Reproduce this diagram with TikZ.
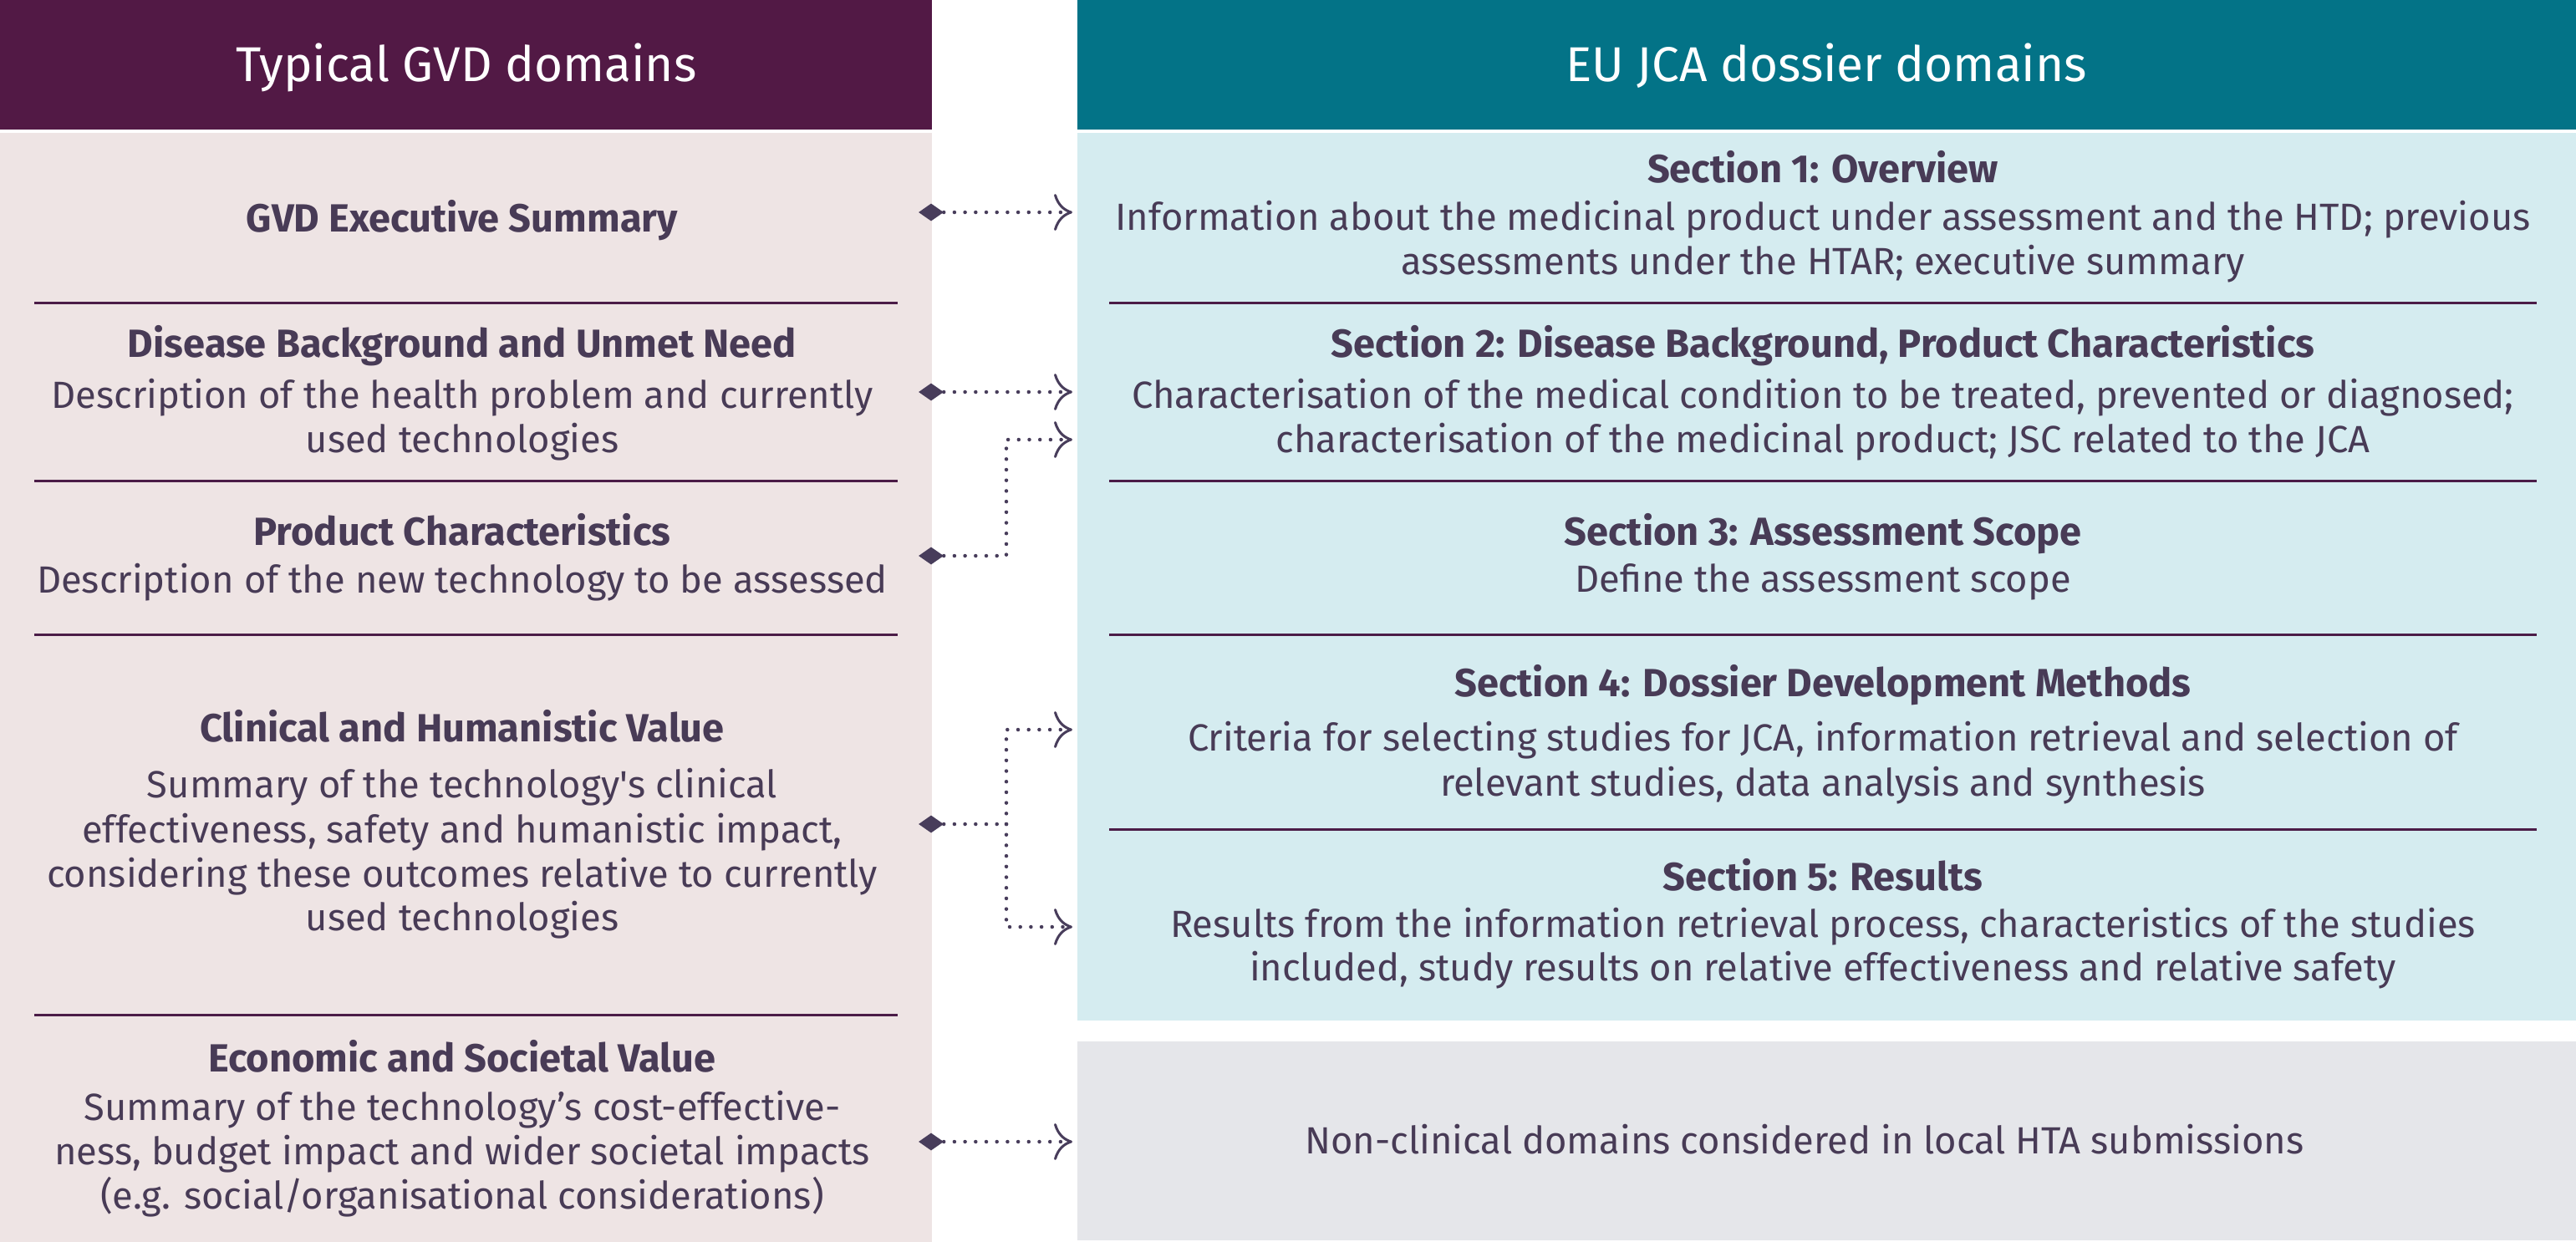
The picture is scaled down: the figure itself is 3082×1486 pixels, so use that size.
\documentclass[tikz,border=0pt]{standalone}
\usepackage{fontspec}
\setmainfont{Fira Sans}
\usetikzlibrary{arrows.meta,shapes.geometric}
\definecolor{plum}{HTML}{521945}
\definecolor{teal}{HTML}{037387}
\definecolor{pinkbg}{HTML}{EEE4E4}
\definecolor{bluebg}{HTML}{D5ECF0}
\definecolor{greybg}{HTML}{E5E6EA}
\definecolor{txt}{HTML}{483B56}
\definecolor{sepc}{HTML}{4B1C47}
\definecolor{conn}{HTML}{483D5B}
\newcommand{\straightap}{{\addfontfeatures{Ligatures=TeXOff}'}}
\tikzset{
  hdr/.style={font=\fontsize{58.5}{66}\selectfont, text=white, anchor=base, inner sep=0pt},
  ttl/.style={font=\bfseries\fontsize{47}{53}\selectfont, text=txt, anchor=base, inner sep=0pt},
  bdy/.style={font=\fontsize{45.3}{53}\selectfont, text=txt, anchor=base, inner sep=0pt},
  sepline/.style={draw=sepc, line width=3pt},
  dia/.style={diamond, fill=conn, inner sep=0pt, minimum width=30pt, minimum height=21pt},
  link/.style={draw=conn, line width=4.5pt, line cap=round, dash pattern=on 0pt off 12.7pt},
  tip/.style={-{Computer Modern Rightarrow[length=22pt,width=44pt,line width=3pt]}}
}
\begin{document}
\begin{tikzpicture}[x=1pt,y=-1pt]
\useasboundingbox (0,0) rectangle (3082,1486);
% backgrounds
\fill[plum] (0,0) rectangle (1115,155);
\fill[pinkbg] (0,159) rectangle (1115,1486);
\fill[teal] (1289,0) rectangle (3082,155);
\fill[bluebg] (1289,159) rectangle (3082,1221);
\fill[greybg] (1289,1246) rectangle (3082,1484);
% headers
\node[hdr] (hl) at (558,97) {Typical GVD domains};
\node[hdr] (hr) at (2185,97) {EU JCA dossier domains};
% separators
\foreach \y in {362,575,759,1214} \draw[sepline] (41,\y) -- (1074,\y);
\foreach \y in {362,575,759,992} \draw[sepline] (1327,\y) -- (3035,\y);
% left texts
\node[ttl] (l1t) at (553,277) {GVD Executive Summary};
\node[ttl] (l2t) at (553,427) {Disease Background and Unmet Need};
\node[bdy] (l2a) at (553,488) {Description of the health problem and currently};
\node[bdy] (l2b) at (553,541) {used technologies};
\node[ttl] (l3t) at (553,652) {Product Characteristics};
\node[bdy] (l3a) at (553,709) {Description of the new technology to be assessed};
\node[ttl] (l4t) at (553,887) {Clinical and Humanistic Value};
\node[bdy] (l4a) at (553,954) {Summary of the technology\straightap s clinical};
\node[bdy] (l4b) at (553,1008) {effectiveness, safety and humanistic impact,};
\node[bdy] (l4c) at (553,1061) {considering these outcomes relative to currently};
\node[bdy] (l4d) at (553,1113) {used technologies};
\node[ttl] (l5t) at (553,1282) {Economic and Societal Value};
\node[bdy] (l5a) at (553,1340) {Summary of the technology’s cost-effective-};
\node[bdy] (l5b) at (553,1393) {ness, budget impact and wider societal impacts};
\node[bdy] (l5c) at (553,1446) {(e.g. social/organisational considerations)};
% right texts
\node[ttl] (r1t) at (2181,218) {Section 1: Overview};
\node[bdy] (r1a) at (2181,275) {Information about the medicinal product under assessment and the HTD; previous};
\node[bdy] (r1b) at (2181,328) {assessments under the HTAR; executive summary};
\node[ttl] (r2t) at (2181,427) {Section 2: Disease Background, Product Characteristics};
\node[bdy] (r2a) at (2181,488) {Characterisation of the medical condition to be treated, prevented or diagnosed;};
\node[bdy] (r2b) at (2181,541) {characterisation of the medicinal product; JSC related to the JCA};
\node[ttl] (r3t) at (2181,652) {Section 3: Assessment Scope};
\node[bdy] (r3a) at (2181,708) {Define the assessment scope};
\node[ttl] (r4t) at (2181,833) {Section 4: Dossier Development Methods};
\node[bdy] (r4a) at (2181,898) {Criteria for selecting studies for JCA, information retrieval and selection of};
\node[bdy] (r4b) at (2181,952) {relevant studies, data analysis and synthesis};
\node[ttl] (r5t) at (2181,1065) {Section 5: Results};
\node[bdy] (r5a) at (2181,1121) {Results from the information retrieval process, characteristics of the studies};
\node[bdy] (r5b) at (2181,1173) {included, study results on relative effectiveness and relative safety};
\node[bdy] (r6a) at (2159,1380) {Non-clinical domains considered in local HTA submissions};
% connectors
\node[dia] (d1) at (1114,254) {};
\node[dia] (d2) at (1114,469) {};
\node[dia] (d3) at (1114,665) {};
\node[dia] (d4) at (1114,986) {};
\node[dia] (d5) at (1114,1366) {};
\coordinate (a1) at (1283,254);
\coordinate (a2) at (1283,469);
\coordinate (a3) at (1283,526);
\coordinate (j3) at (1204,665);
\coordinate (j4) at (1204,986);
\coordinate (a4a) at (1283,873);
\coordinate (a4b) at (1283,1109);
\coordinate (a5) at (1283,1366);
\draw[link,tip] (d1.east) -- (a1);
\draw[link,tip] (d2.east) -- (a2);
\draw[link,tip] (d3.east) -- (j3) |- (a3);
\draw[link] (d4.east) -- (j4);
\draw[link,tip] (j4) |- (a4a);
\draw[link,tip] (j4) |- (a4b);
\draw[link,tip] (d5.east) -- (a5);
\end{tikzpicture}
\end{document}
